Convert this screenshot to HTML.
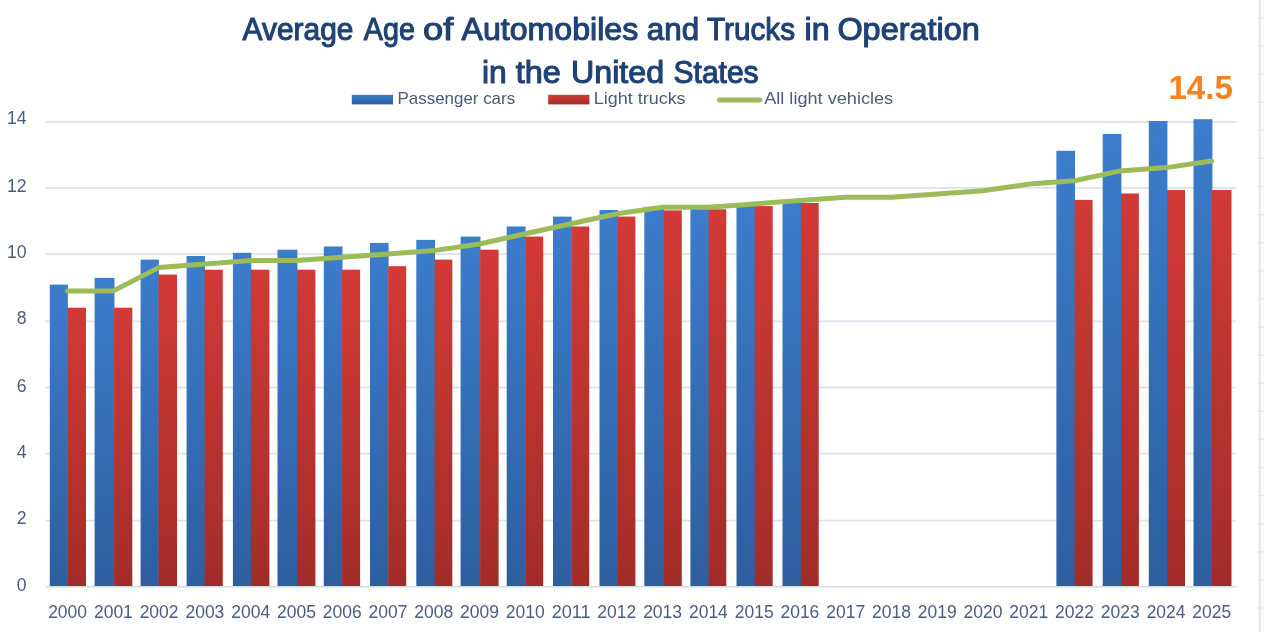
<!DOCTYPE html>
<html lang="en"><head><meta charset="utf-8"><title>Average Age of Automobiles and Trucks in Operation in the United States</title>
<style>
html,body{margin:0;padding:0;background:#fff;}
body{width:1264px;height:632px;overflow:hidden;font-family:"Liberation Sans",sans-serif;}
svg{display:block}
text{font-family:"Liberation Sans",sans-serif}
.ax{fill:#4a5d80;font-size:17.5px}
.lg{fill:#4a5a78;font-size:16.6px}
.ti{fill:#1f4276;font-size:31px;stroke:#1f4276;stroke-width:1.1px;stroke-linejoin:round}
</style></head><body>
<svg width="1264" height="632" viewBox="0 0 1264 632">
<defs>
<linearGradient id="gb" x1="0" y1="0" x2="0" y2="1"><stop offset="0" stop-color="#3c7dcc"/><stop offset="1" stop-color="#2d5e9e"/></linearGradient>
<linearGradient id="gr" x1="0" y1="0" x2="0" y2="1"><stop offset="0" stop-color="#d23a36"/><stop offset="1" stop-color="#a22c29"/></linearGradient>
</defs>
<rect width="1264" height="632" fill="#ffffff"/>

<rect x="1258" y="0" width="6" height="632" fill="#f9fafc"/>
<rect x="1258.8" y="0" width="2" height="632" fill="#e3e8ef"/>
<rect x="1257.5" y="17.2" width="6.5" height="1.4" fill="#e4e8ee"/>
<rect x="1257.5" y="45.3" width="6.5" height="1.4" fill="#e4e8ee"/>
<rect x="1257.5" y="73.4" width="6.5" height="1.4" fill="#e4e8ee"/>
<rect x="1257.5" y="101.5" width="6.5" height="1.4" fill="#e4e8ee"/>
<rect x="1257.5" y="129.6" width="6.5" height="1.4" fill="#e4e8ee"/>
<rect x="1257.5" y="157.7" width="6.5" height="1.4" fill="#e4e8ee"/>
<rect x="1257.5" y="185.8" width="6.5" height="1.4" fill="#e4e8ee"/>
<rect x="1257.5" y="213.9" width="6.5" height="1.4" fill="#e4e8ee"/>
<rect x="1257.5" y="242.0" width="6.5" height="1.4" fill="#e4e8ee"/>
<rect x="1257.5" y="270.1" width="6.5" height="1.4" fill="#e4e8ee"/>
<rect x="1257.5" y="298.2" width="6.5" height="1.4" fill="#e4e8ee"/>
<rect x="1257.5" y="326.3" width="6.5" height="1.4" fill="#e4e8ee"/>
<rect x="1257.5" y="354.4" width="6.5" height="1.4" fill="#e4e8ee"/>
<rect x="1257.5" y="382.5" width="6.5" height="1.4" fill="#e4e8ee"/>
<rect x="1257.5" y="410.6" width="6.5" height="1.4" fill="#e4e8ee"/>
<rect x="1257.5" y="438.7" width="6.5" height="1.4" fill="#e4e8ee"/>
<rect x="1257.5" y="466.8" width="6.5" height="1.4" fill="#e4e8ee"/>
<rect x="1257.5" y="494.9" width="6.5" height="1.4" fill="#e4e8ee"/>
<rect x="1257.5" y="523.0" width="6.5" height="1.4" fill="#e4e8ee"/>
<rect x="1257.5" y="551.1" width="6.5" height="1.4" fill="#e4e8ee"/>
<rect x="1257.5" y="579.2" width="6.5" height="1.4" fill="#e4e8ee"/>
<rect x="1257.5" y="607.3" width="6.5" height="1.4" fill="#e4e8ee"/>
<rect x="45.5" y="121.1" width="1190.5" height="1.8" fill="#dde3ea"/>
<rect x="45.5" y="187.0" width="1190.5" height="1.8" fill="#dde3ea"/>
<rect x="45.5" y="253.1" width="1190.5" height="1.8" fill="#dde3ea"/>
<rect x="45.5" y="320.4" width="1190.5" height="1.8" fill="#dde3ea"/>
<rect x="45.5" y="386.6" width="1190.5" height="1.8" fill="#dde3ea"/>
<rect x="45.5" y="452.7" width="1190.5" height="1.8" fill="#dde3ea"/>
<rect x="45.5" y="519.7" width="1190.5" height="1.8" fill="#dde3ea"/>
<rect x="45.5" y="585.9" width="1191" height="1.6" fill="#d3dbe4"/>
<rect x="49.8" y="284.6" width="18.1" height="301.4" fill="url(#gb)"/>
<rect x="67.5" y="307.7" width="18.5" height="278.3" fill="url(#gr)"/>
<rect x="94.6" y="277.9" width="19.9" height="308.1" fill="url(#gb)"/>
<rect x="114.1" y="307.7" width="18.2" height="278.3" fill="url(#gr)"/>
<rect x="140.6" y="259.6" width="18.3" height="326.4" fill="url(#gb)"/>
<rect x="158.5" y="274.6" width="18.5" height="311.4" fill="url(#gr)"/>
<rect x="186.6" y="256.0" width="18.4" height="330.0" fill="url(#gb)"/>
<rect x="204.6" y="269.7" width="18.2" height="316.3" fill="url(#gr)"/>
<rect x="232.9" y="252.8" width="18.4" height="333.2" fill="url(#gb)"/>
<rect x="250.9" y="269.7" width="18.5" height="316.3" fill="url(#gr)"/>
<rect x="277.5" y="249.7" width="19.9" height="336.3" fill="url(#gb)"/>
<rect x="297.0" y="269.7" width="18.4" height="316.3" fill="url(#gr)"/>
<rect x="323.8" y="246.5" width="18.7" height="339.5" fill="url(#gb)"/>
<rect x="342.1" y="269.7" width="18.0" height="316.3" fill="url(#gr)"/>
<rect x="370.0" y="242.9" width="18.6" height="343.1" fill="url(#gb)"/>
<rect x="388.2" y="266.2" width="18.0" height="319.8" fill="url(#gr)"/>
<rect x="416.3" y="239.9" width="18.7" height="346.1" fill="url(#gb)"/>
<rect x="434.6" y="259.6" width="17.7" height="326.4" fill="url(#gr)"/>
<rect x="460.6" y="236.6" width="19.9" height="349.4" fill="url(#gb)"/>
<rect x="480.1" y="249.7" width="18.5" height="336.3" fill="url(#gr)"/>
<rect x="506.7" y="226.5" width="18.9" height="359.5" fill="url(#gb)"/>
<rect x="525.2" y="236.6" width="18.0" height="349.4" fill="url(#gr)"/>
<rect x="553.0" y="216.6" width="18.7" height="369.4" fill="url(#gb)"/>
<rect x="571.3" y="226.5" width="17.9" height="359.5" fill="url(#gr)"/>
<rect x="599.5" y="210.0" width="18.6" height="376.0" fill="url(#gb)"/>
<rect x="617.7" y="216.6" width="17.7" height="369.4" fill="url(#gr)"/>
<rect x="644.3" y="206.9" width="19.9" height="379.1" fill="url(#gb)"/>
<rect x="663.8" y="210.4" width="18.0" height="375.6" fill="url(#gr)"/>
<rect x="690.4" y="207.0" width="18.6" height="379.0" fill="url(#gb)"/>
<rect x="708.6" y="209.3" width="17.7" height="376.7" fill="url(#gr)"/>
<rect x="736.5" y="204.0" width="18.6" height="382.0" fill="url(#gb)"/>
<rect x="754.7" y="206.1" width="18.0" height="379.9" fill="url(#gr)"/>
<rect x="782.5" y="201.0" width="18.7" height="385.0" fill="url(#gb)"/>
<rect x="800.8" y="203.0" width="17.9" height="383.0" fill="url(#gr)"/>
<rect x="1056.4" y="150.8" width="18.6" height="435.2" fill="url(#gb)"/>
<rect x="1074.6" y="199.9" width="18.0" height="386.1" fill="url(#gr)"/>
<rect x="1102.7" y="134.0" width="18.7" height="452.0" fill="url(#gb)"/>
<rect x="1121.0" y="193.5" width="17.9" height="392.5" fill="url(#gr)"/>
<rect x="1148.8" y="121.0" width="18.6" height="465.0" fill="url(#gb)"/>
<rect x="1167.0" y="190.0" width="18.0" height="396.0" fill="url(#gr)"/>
<rect x="1193.5" y="119.2" width="18.9" height="466.8" fill="url(#gb)"/>
<rect x="1212.0" y="190.0" width="19.5" height="396.0" fill="url(#gr)"/>
<polyline points="67.6,290.9 113.4,290.9 159.1,267.4 204.9,264.0 250.7,260.6 296.5,260.6 342.2,257.3 388.0,253.9 433.8,250.6 479.5,244.0 525.3,233.7 571.1,223.8 616.8,213.8 662.6,207.2 708.4,207.2 754.2,203.9 799.9,200.6 845.7,197.3 891.5,197.3 937.2,194.0 983.0,190.7 1028.8,184.1 1074.5,180.8 1120.3,170.9 1166.1,167.6 1211.8,161.0" fill="none" stroke="#9bbc59" stroke-width="5" stroke-linejoin="round" stroke-linecap="round"/>
<text class="ax" x="67.6" y="618" text-anchor="middle" textLength="38.9" lengthAdjust="spacingAndGlyphs">2000</text>
<text class="ax" x="113.4" y="618" text-anchor="middle" textLength="38.9" lengthAdjust="spacingAndGlyphs">2001</text>
<text class="ax" x="159.1" y="618" text-anchor="middle" textLength="38.9" lengthAdjust="spacingAndGlyphs">2002</text>
<text class="ax" x="204.9" y="618" text-anchor="middle" textLength="38.9" lengthAdjust="spacingAndGlyphs">2003</text>
<text class="ax" x="250.7" y="618" text-anchor="middle" textLength="38.9" lengthAdjust="spacingAndGlyphs">2004</text>
<text class="ax" x="296.5" y="618" text-anchor="middle" textLength="38.9" lengthAdjust="spacingAndGlyphs">2005</text>
<text class="ax" x="342.2" y="618" text-anchor="middle" textLength="38.9" lengthAdjust="spacingAndGlyphs">2006</text>
<text class="ax" x="388.0" y="618" text-anchor="middle" textLength="38.9" lengthAdjust="spacingAndGlyphs">2007</text>
<text class="ax" x="433.8" y="618" text-anchor="middle" textLength="38.9" lengthAdjust="spacingAndGlyphs">2008</text>
<text class="ax" x="479.5" y="618" text-anchor="middle" textLength="38.9" lengthAdjust="spacingAndGlyphs">2009</text>
<text class="ax" x="525.3" y="618" text-anchor="middle" textLength="38.9" lengthAdjust="spacingAndGlyphs">2010</text>
<text class="ax" x="571.1" y="618" text-anchor="middle" textLength="38.9" lengthAdjust="spacingAndGlyphs">2011</text>
<text class="ax" x="616.8" y="618" text-anchor="middle" textLength="38.9" lengthAdjust="spacingAndGlyphs">2012</text>
<text class="ax" x="662.6" y="618" text-anchor="middle" textLength="38.9" lengthAdjust="spacingAndGlyphs">2013</text>
<text class="ax" x="708.4" y="618" text-anchor="middle" textLength="38.9" lengthAdjust="spacingAndGlyphs">2014</text>
<text class="ax" x="754.2" y="618" text-anchor="middle" textLength="38.9" lengthAdjust="spacingAndGlyphs">2015</text>
<text class="ax" x="799.9" y="618" text-anchor="middle" textLength="38.9" lengthAdjust="spacingAndGlyphs">2016</text>
<text class="ax" x="845.7" y="618" text-anchor="middle" textLength="38.9" lengthAdjust="spacingAndGlyphs">2017</text>
<text class="ax" x="891.5" y="618" text-anchor="middle" textLength="38.9" lengthAdjust="spacingAndGlyphs">2018</text>
<text class="ax" x="937.2" y="618" text-anchor="middle" textLength="38.9" lengthAdjust="spacingAndGlyphs">2019</text>
<text class="ax" x="983.0" y="618" text-anchor="middle" textLength="38.9" lengthAdjust="spacingAndGlyphs">2020</text>
<text class="ax" x="1028.8" y="618" text-anchor="middle" textLength="38.9" lengthAdjust="spacingAndGlyphs">2021</text>
<text class="ax" x="1074.5" y="618" text-anchor="middle" textLength="38.9" lengthAdjust="spacingAndGlyphs">2022</text>
<text class="ax" x="1120.3" y="618" text-anchor="middle" textLength="38.9" lengthAdjust="spacingAndGlyphs">2023</text>
<text class="ax" x="1166.1" y="618" text-anchor="middle" textLength="38.9" lengthAdjust="spacingAndGlyphs">2024</text>
<text class="ax" x="1211.8" y="618" text-anchor="middle" textLength="38.9" lengthAdjust="spacingAndGlyphs">2025</text>
<text class="ax" x="26.6" y="124.0" text-anchor="end" textLength="19.6" lengthAdjust="spacingAndGlyphs">14</text>
<text class="ax" x="26.6" y="192.0" text-anchor="end" textLength="19.6" lengthAdjust="spacingAndGlyphs">12</text>
<text class="ax" x="26.6" y="257.8" text-anchor="end" textLength="19.6" lengthAdjust="spacingAndGlyphs">10</text>
<text class="ax" x="26.6" y="324.0" text-anchor="end" textLength="9.8" lengthAdjust="spacingAndGlyphs">8</text>
<text class="ax" x="26.6" y="392.0" text-anchor="end" textLength="9.8" lengthAdjust="spacingAndGlyphs">6</text>
<text class="ax" x="26.6" y="457.8" text-anchor="end" textLength="9.8" lengthAdjust="spacingAndGlyphs">4</text>
<text class="ax" x="26.6" y="524.0" text-anchor="end" textLength="9.8" lengthAdjust="spacingAndGlyphs">2</text>
<text class="ax" x="26.6" y="590.8" text-anchor="end" textLength="9.8" lengthAdjust="spacingAndGlyphs">0</text>
<text class="ti" x="242.60" y="39.6" textLength="110.80" lengthAdjust="spacingAndGlyphs">Average</text>
<text class="ti" x="363.80" y="39.6" textLength="51.21" lengthAdjust="spacingAndGlyphs">Age</text>
<text class="ti" x="423.00" y="39.6" textLength="30.22" lengthAdjust="spacingAndGlyphs">of</text>
<text class="ti" x="461.60" y="39.6" textLength="176.60" lengthAdjust="spacingAndGlyphs">Automobiles</text>
<text class="ti" x="646.80" y="39.6" textLength="52.30" lengthAdjust="spacingAndGlyphs">and</text>
<text class="ti" x="707.00" y="39.6" textLength="88.00" lengthAdjust="spacingAndGlyphs">Trucks</text>
<text class="ti" x="804.60" y="39.6" textLength="25.09" lengthAdjust="spacingAndGlyphs">in</text>
<text class="ti" x="837.40" y="39.6" textLength="142.44" lengthAdjust="spacingAndGlyphs">Operation</text>
<text class="ti" x="482.00" y="82.6" textLength="24.75" lengthAdjust="spacingAndGlyphs">in</text>
<text class="ti" x="515.80" y="82.6" textLength="45.06" lengthAdjust="spacingAndGlyphs">the</text>
<text class="ti" x="571.00" y="82.6" textLength="93.15" lengthAdjust="spacingAndGlyphs">United</text>
<text class="ti" x="673.60" y="82.6" textLength="85.03" lengthAdjust="spacingAndGlyphs">States</text>
<rect x="351.8" y="94.8" width="41.2" height="9.6" fill="url(#gb)"/>
<text class="lg" x="397.6" y="103.7" textLength="117.5" lengthAdjust="spacingAndGlyphs">Passenger cars</text>
<rect x="548.2" y="94.8" width="41.2" height="9.6" fill="url(#gr)"/>
<text class="lg" x="593.8" y="103.7" textLength="91.8" lengthAdjust="spacingAndGlyphs">Light trucks</text>
<line x1="719.5" y1="100" x2="759.8" y2="100" stroke="#9bbc59" stroke-width="5" stroke-linecap="round"/>
<text class="lg" x="764.2" y="103.7" textLength="129.0" lengthAdjust="spacingAndGlyphs">All light vehicles</text>
<text x="1168.4" y="98.9" textLength="64.4" lengthAdjust="spacingAndGlyphs" font-size="33.5" font-weight="bold" fill="#f58220">14.5</text>
</svg></body></html>
